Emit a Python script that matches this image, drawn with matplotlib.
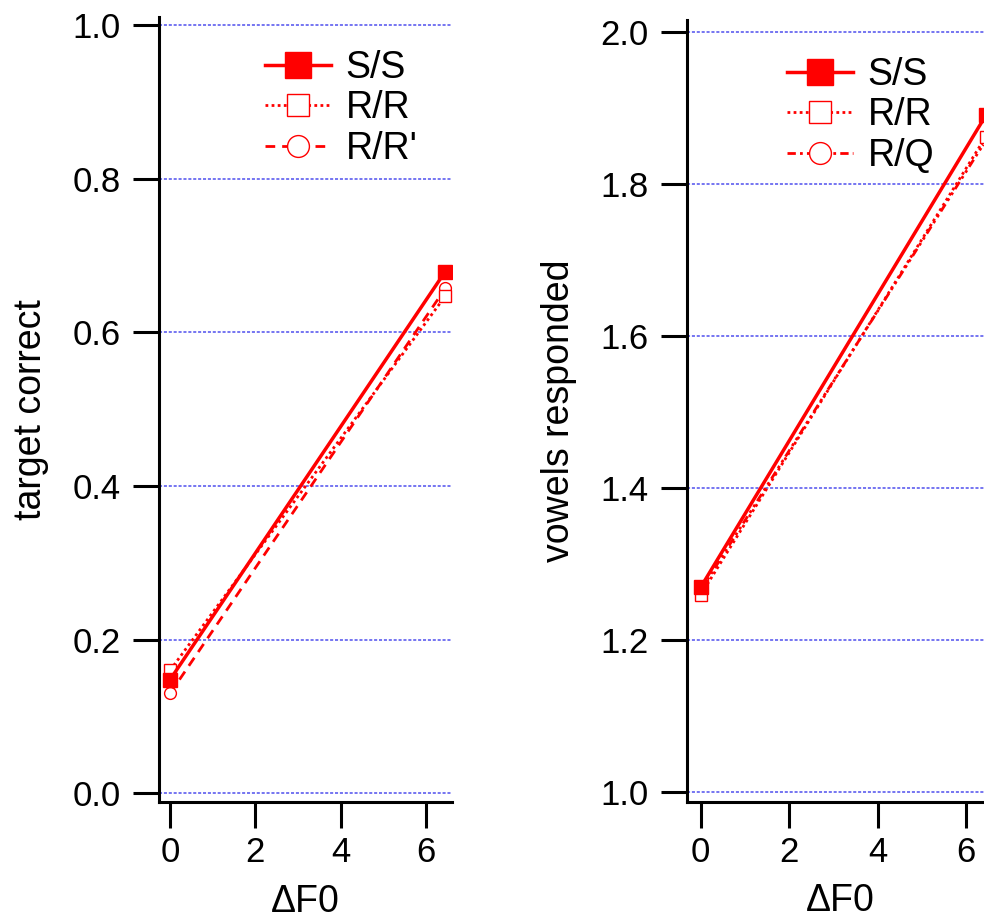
import matplotlib
matplotlib.use('Agg')
import matplotlib.pyplot as plt

plt.rcParams['font.family'] = ['Liberation Sans', 'DejaVu Sans']
plt.rcParams['font.size'] = 25

# data
df0 = [0, 6.45]

left_labels = ['S/S', 'R/R', "R/R'"]
left_ss = [0.148, 0.679]
left_rr = [0.160, 0.647]
left_rr2 = [0.130, 0.657]

right_labels = ['S/S', 'R/R', 'R/Q']
right_ss = [1.269, 1.890]
right_rr = [1.259, 1.862]
right_rq = [1.265, 1.857]

left_yticks = [0.0, 0.2, 0.4, 0.6, 0.8, 1.0]
right_yticks = [1.0, 1.2, 1.4, 1.6, 1.8, 2.0]
xticks = [0, 2, 4, 6]

red = '#ff0000'
grid_col = '#4f4fee'

fig = plt.figure(figsize=(9.84, 9.22), dpi=100)
ax1 = fig.add_axes([0.1616, 0.1302, 0.2978, 0.8514])
ax2 = fig.add_axes([0.6982, 0.1302, 0.3109, 0.8481])


def style(ax, yticks):
    for s in ['top', 'right']:
        ax.spines[s].set_visible(False)
    for s in ['left', 'bottom']:
        ax.spines[s].set_linewidth(2.2)
    ax.set_xticks(xticks)
    ax.set_yticks(yticks)
    ax.set_yticklabels(['%.1f' % v for v in yticks])
    ax.tick_params(axis='both', length=18.5, width=2.2, labelsize=25)
    ax.tick_params(axis='x', pad=6)
    ax.tick_params(axis='y', pad=9)
    ax.yaxis.grid(True, color=grid_col, lw=1.1, ls=(0, (2.0, 1.2)))
    ax.set_axisbelow(True)
    ax.set_xlabel('ΔF0', fontsize=27)
    ax.xaxis.set_label_coords(0.5, -0.104)


def draw(ax, ys, labels, third_ls):
    ax.plot(df0, ys[0], color=red, lw=2.5, ls='-', marker='s', ms=10,
            mfc=red, mec=red, label=labels[0], zorder=5)
    ax.plot(df0, ys[1], color=red, lw=2.0, ls=(0, (1, 1.2)), marker='s', ms=8.5,
            mfc='white', mec=red, mew=1.0, label=labels[1], zorder=4)
    ax.plot(df0, ys[2], color=red, lw=2.0, ls=third_ls, marker='o', ms=8.5,
            mfc='white', mec=red, mew=1.0, label=labels[2], zorder=3)
    return ax.legend(loc='upper left', frameon=False, borderpad=0, borderaxespad=0,
                     handlelength=1.75, handletextpad=0.4, labelspacing=0.12,
                     markerscale=1.85, fontsize=27)


draw(ax1, [left_ss, left_rr, left_rr2], left_labels, (0, (3.5, 2.5)))
ax1.get_legend().set_bbox_to_anchor((0.362, 0.958), transform=ax1.transAxes)
style(ax1, left_yticks)
ax1.set_xlim(-0.26, 6.61)
ax1.set_ylim(-0.0113, 1.0104)
ax1.set_ylabel('target correct', fontsize=27)
ax1.yaxis.set_label_coords(-0.375, 0.5)

draw(ax2, [right_ss, right_rr, right_rq], right_labels, (0, (3, 1.5, 1, 1.5, 1, 1.5)))
ax2.get_legend().set_bbox_to_anchor((0.327, 0.953), transform=ax2.transAxes)
style(ax2, right_yticks)
ax2.set_xlim(-0.31, 6.61)
ax2.set_ylim(0.9864, 2.0154)
ax2.set_ylabel('vowels responded', fontsize=27)
ax2.yaxis.set_label_coords(-0.36, 0.5)

fig.savefig('out.png', dpi=100)
